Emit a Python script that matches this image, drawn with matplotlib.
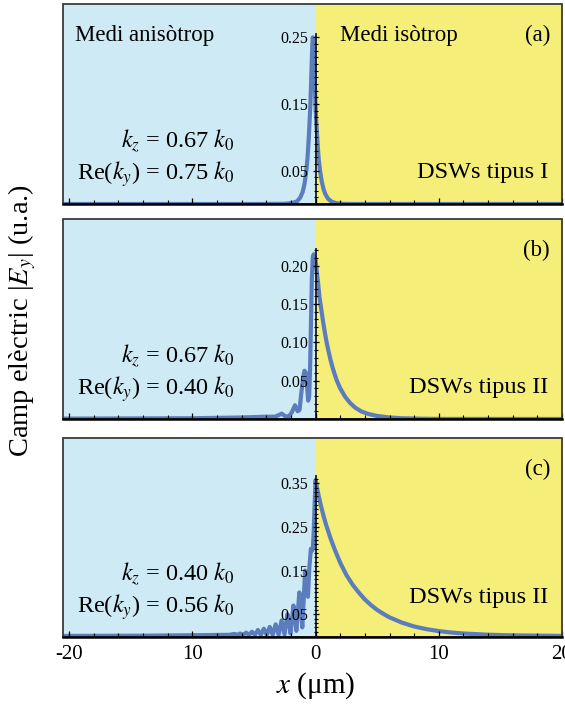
import numpy as np
import matplotlib
matplotlib.use('Agg')
import matplotlib.pyplot as plt
from matplotlib.ticker import FixedLocator, FixedFormatter
from matplotlib.patches import Rectangle

plt.rcParams['font.family'] = ['Liberation Serif', 'DejaVu Serif']
plt.rcParams['mathtext.fontset'] = 'stix'

# ---------------- data ----------------
x_a = [-20.5, -5.0, -2.5, -1.8, -1.5, -1.25, -1.05, -0.9, -0.75, -0.65, -0.55, -0.47,
       -0.42, -0.35, -0.3, -0.26, -0.23, -0.19, -0.14, -0.09, -0.05, -0.02, 0.0, 0.05,
       0.1, 0.18, 0.26, 0.36, 0.5, 0.65, 0.8, 1.0, 1.3, 1.7, 2.3, 3.0, 20.0]
y_a = [0.0, 0.0, 0.0003, 0.002, 0.004, 0.0095, 0.018, 0.03, 0.05, 0.07, 0.1, 0.13,
       0.15, 0.19, 0.22, 0.24, 0.25, 0.245, 0.225, 0.2, 0.175, 0.155, 0.145, 0.125,
       0.11, 0.085, 0.066, 0.05, 0.034, 0.022, 0.0145, 0.0082, 0.0035, 0.0011, 0.0002, 0.0, 0.0]

x_b = [-20.5, -10.0, -6.0, -4.0, -3.3, -3.0, -2.75, -2.5, -2.2, -1.95, -1.67, -1.45,
       -1.3, -1.15, -1.0, -0.9, -0.78, -0.68, -0.6, -0.52, -0.44, -0.37, -0.3, -0.22,
       -0.15, -0.07, 0.0, 0.1, 0.2, 0.31, 0.4, 0.5, 0.6, 0.7, 0.85, 1.0, 1.2, 1.4, 1.7,
       2.0, 2.4, 2.8, 3.2, 3.7, 4.3, 5.0, 6.0, 7.0, 8.5, 10.0, 20.0]
y_b = [0.0005, 0.001, 0.002, 0.003, 0.003, 0.005, 0.007, 0.004, 0.003, 0.008, 0.018, 0.01,
       0.012, 0.035, 0.055, 0.063, 0.06, 0.04, 0.024, 0.03, 0.07, 0.13, 0.185, 0.212,
       0.215, 0.212, 0.207, 0.192, 0.178, 0.16, 0.15, 0.139, 0.128, 0.118, 0.104, 0.092,
       0.078, 0.066, 0.051, 0.04, 0.029, 0.021, 0.015, 0.01, 0.0065, 0.004, 0.002, 0.001,
       0.0004, 0.0001, 0.0]

x_c = [-20.5, -14.0, -10.0, -7.0, -6.6, -6.36, -6.12, -5.88, -5.64, -5.4, -5.16, -4.92,
       -4.68, -4.44, -4.2, -3.96, -3.72, -3.48, -3.24, -3.0, -2.76, -2.52, -2.28, -2.16,
       -2.04, -1.92, -1.8, -1.68, -1.56, -1.45, -1.32, -1.2, -1.08, -0.97, -0.85, -0.75,
       -0.62, -0.5, -0.38, -0.3, -0.22, -0.15, -0.08, 0.0, 0.15, 0.3, 0.45, 0.6, 0.85, 1.2,
       1.6, 2.0, 2.5, 3.0, 3.5, 4.0, 4.5, 5.0, 5.5, 6.0, 7.0, 8.0, 9.0, 10.0, 11.0, 12.0,
       14.0, 16.0, 20.0]
y_c = [0.0005, 0.001, 0.002, 0.003, 0.005, 0.003, 0.006, 0.003, 0.008, 0.003, 0.01, 0.003,
       0.014, 0.003, 0.017, 0.003, 0.021, 0.003, 0.027, 0.003, 0.036, 0.004, 0.05, 0.035,
       0.006, 0.035, 0.07, 0.05, 0.012, 0.05, 0.1, 0.07, 0.02, 0.08, 0.15, 0.13,
       0.09, 0.16, 0.2, 0.195, 0.2, 0.24, 0.3, 0.357, 0.335, 0.315, 0.297, 0.28, 0.255, 0.225,
       0.195, 0.168, 0.14, 0.118, 0.1, 0.084, 0.071, 0.06, 0.051, 0.043, 0.031, 0.022, 0.016,
       0.0115, 0.0083, 0.006, 0.0032, 0.0017, 0.0005]

ytick_a = [0.05, 0.15, 0.25]
ytick_b = [0.05, 0.10, 0.15, 0.20]
ytick_c = [0.05, 0.15, 0.25, 0.35]
ylabels_a = ['0.05', '0.15', '0.25']
ylabels_b = ['0.05', '0.10', '0.15', '0.20']
ylabels_c = ['0.05', '0.15', '0.25', '0.35']
xticks = [-20, -10, 0, 10, 20]
xticklabels = ['-20', '10', '0', '10', '20']

kz_text = [r'$k_z$ = 0.67 $k_0$', r'$k_z$ = 0.67 $k_0$', r'$k_z$ = 0.40 $k_0$']
ky_text = [r'Re($k_y$) = 0.75 $k_0$', r'Re($k_y$) = 0.40 $k_0$', r'Re($k_y$) = 0.56 $k_0$']
type_text = ['DSWs tipus I', 'DSWs tipus II', 'DSWs tipus II']
panel_tags = ['(a)', '(b)', '(c)']

# ---------------- style ----------------
BLUE = '#CEEBF5'
YEL = '#F5EE78'
LINE = '#5B7DBE'
W, H = 565, 704

fig = plt.figure(figsize=(W / 100, H / 100), dpi=100)

rects = [(4, 204), (219, 419), (438, 637)]
ylims = [(0.0, 0.30), (0.0, 0.261), (-0.002, 0.4535)]
spine_top = [0.255, 0.222, 0.366]
type_y = [0.13, 0.13, 0.17]
series = [(x_a, y_a), (x_b, y_b), (x_c, y_c)]
yticks = [(ytick_a, ylabels_a), (ytick_b, ylabels_b), (ytick_c, ylabels_c)]

for i in range(3):
    top, bot = rects[i]
    ax = fig.add_axes([63 / W, 1 - bot / H, (562 - 63) / W, (bot - top) / H])
    ax.set_axisbelow(False)
    ax.set_xlim(-20.5, 20)
    ax.set_ylim(*ylims[i])
    ax.axvspan(-20.5, 0, color=BLUE, lw=0, zorder=0)
    ax.axvspan(0, 20, color=YEL, lw=0, zorder=0)
    xs, ys = series[i]
    ax.plot(xs, ys, color=LINE, lw=3.0, solid_joinstyle='round', solid_capstyle='round', zorder=2)

    # frame
    for s in ['top', 'right']:
        ax.spines[s].set_visible(False)
    ax.add_patch(Rectangle((0, 0), 1, 1, transform=ax.transAxes, fill=False,
                           edgecolor='#3a3a3a', lw=1.3, zorder=5, clip_on=False))
    ax.spines['bottom'].set_color('black')
    ax.spines['bottom'].set_linewidth(1.8)
    ax.spines['bottom'].set_zorder(6)

    # centre axis
    ax.spines['left'].set_position(('data', 0))
    ax.spines['left'].set_bounds(0, spine_top[i])
    ax.spines['left'].set_linewidth(1.3)
    ax.spines['left'].set_color('#1a1a1a')
    yt, yl = yticks[i]
    ax.yaxis.set_major_locator(FixedLocator(yt))
    ax.yaxis.set_major_formatter(FixedFormatter(yl))
    ax.yaxis.set_minor_locator(FixedLocator(np.arange(0, spine_top[i] + 1e-9, 0.01)))
    ax.tick_params(axis='y', which='major', direction='inout', length=4.5, width=0.9,
                   labelsize=11.5, pad=3)
    ax.tick_params(axis='y', which='minor', direction='inout', length=3, width=0.8)

    # x axis
    ax.xaxis.set_major_locator(FixedLocator(xticks))
    ax.xaxis.set_minor_locator(FixedLocator(np.arange(-20, 20.1, 2)))
    ax.tick_params(axis='x', which='major', direction='in', length=4, width=0.9,
                   labelsize=15, pad=6)
    ax.tick_params(axis='x', which='minor', direction='in', length=3, width=0.8)
    if i == 2:
        ax.set_xticklabels(xticklabels)
    else:
        ax.set_xticklabels([])

    # annotations
    ax.text((235 - 63) / 499, 0.28, kz_text[i], transform=ax.transAxes,
            ha='right', va='baseline', fontsize=17.5)
    ax.text((235 - 63) / 499, 0.12, ky_text[i], transform=ax.transAxes,
            ha='right', va='baseline', fontsize=17.5)
    ax.text((548 - 63) / 499, type_y[i], type_text[i], transform=ax.transAxes,
            ha='right', va='baseline', fontsize=17.5)
    ax.text((550 - 63) / 499, 0.815, panel_tags[i], transform=ax.transAxes,
            ha='right', va='baseline', fontsize=16.5)
    if i == 0:
        ax.text((75 - 63) / 499, 0.815, 'Medi anisòtrop', transform=ax.transAxes,
                ha='left', va='baseline', fontsize=16.5)
        ax.text((340 - 63) / 499, 0.815, 'Medi isòtrop', transform=ax.transAxes,
                ha='left', va='baseline', fontsize=16.5)

fig.text(22 / W, 1 - 321 / H, r'Camp elèctric |$E_y$| (u.a.)', rotation=90,
         ha='center', va='center', fontsize=20.5)
fig.text(316 / W, 1 - 686 / H, r'$x$ (μm)', ha='center', va='center', fontsize=21)

fig.savefig('out.png', dpi=100)
